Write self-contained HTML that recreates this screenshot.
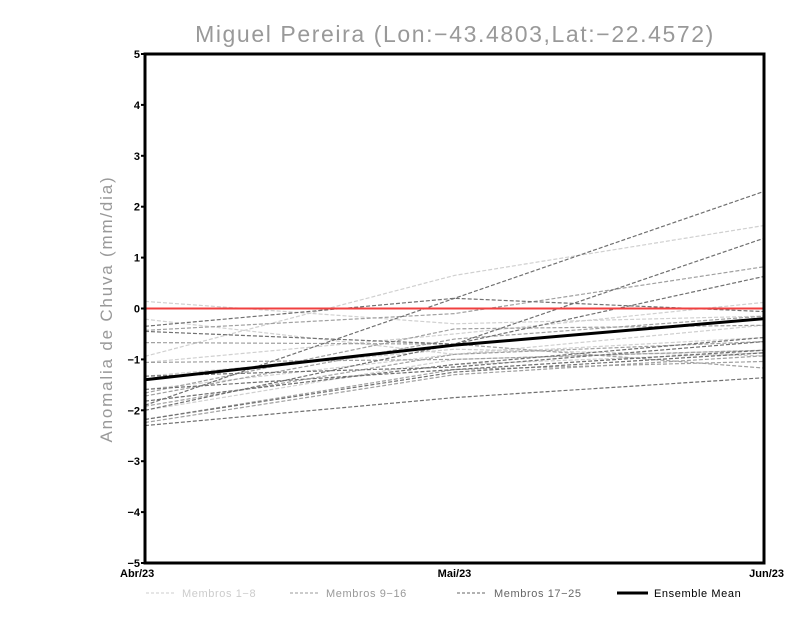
<!DOCTYPE html>
<html><head><meta charset="utf-8"><style>
body{margin:0;background:#fff}
svg{display:block;font-family:"Liberation Sans",sans-serif}
</style></head><body>
<svg id="c" width="800" height="618">
<text x="455" y="42" text-anchor="middle" font-size="23" letter-spacing="1.6" fill="#999">Miguel Pereira (Lon:−43.4803,Lat:−22.4572)</text>
<text transform="translate(112,309) rotate(-90)" text-anchor="middle" font-size="17" letter-spacing="1.8" fill="#999">Anomalia de Chuva (mm/dia)</text>
<g id="lines"></g>
<g id="axes"></g>
<g id="legend">
<line x1="146" y1="593" x2="176" y2="593" stroke="#ccc" stroke-dasharray="3,2"/>
<text x="182" y="597" font-size="11" letter-spacing="0.6" fill="#ccc">Membros 1−8</text>
<line x1="290" y1="593" x2="320" y2="593" stroke="#999" stroke-dasharray="3,2"/>
<text x="326" y="597" font-size="11" letter-spacing="0.6" fill="#999">Membros 9−16</text>
<line x1="457" y1="593" x2="487" y2="593" stroke="#666" stroke-dasharray="3,2"/>
<text x="494" y="597" font-size="11" letter-spacing="0.6" fill="#666">Membros 17−25</text>
<line x1="617" y1="593" x2="648" y2="593" stroke="#000" stroke-width="3"/>
<text x="654" y="597" font-size="11" letter-spacing="0.6" fill="#000">Ensemble Mean</text>
</g>
</svg>
<script>
const categories=["Abr/23","Mai/23","Jun/23"];
const yTicks=[-5,-4,-3,-2,-1,0,1,2,3,4,5];
const members1to8=[[0.14,-0.3,-0.15],[-0.94,0.65,1.63],[-1.06,-0.5,0.12],[-1.33,-0.8,-0.93],[-2.0,-1.0,-0.82],[-1.59,-0.9,-0.57],[-0.21,-0.9,-0.33],[-1.82,-1.1,-0.87]];
const members9to16=[[-0.43,-0.1,0.82],[-1.66,-0.4,-0.33],[-1.72,-0.6,-0.15],[-2.18,-1.2,-1.04],[-0.67,-0.7,-1.17],[-1.92,-0.9,-0.65],[-2.24,-1.3,-0.93],[-1.06,-1.0,-0.82]];
const members17to25=[[-1.9,0.2,2.3],[-0.35,0.2,-0.06],[-2.0,-0.7,1.38],[-0.45,-0.7,0.63],[-1.82,-1.1,-0.57],[-2.3,-1.75,-1.36],[-1.33,-1.15,-0.65],[-2.18,-1.25,-0.87],[-1.59,-1.2,-0.82]];
const ensembleMean=[-1.4,-0.72,-0.2];
const L=145,R=764,T=54,B=563;
const xs=i=>L+(R-L)*i/(categories.length-1);
const ys=v=>T+(B-T)*(5-v)/10;
const NS="http://www.w3.org/2000/svg";
const lines=document.getElementById('lines'),axes=document.getElementById('axes');
function mk(tag,attrs,parent){const e=document.createElementNS(NS,tag);for(const k in attrs)e.setAttribute(k,attrs[k]);parent.appendChild(e);return e;}
function poly(vals,color,w,dash,name){
  const p=mk('polyline',{points:vals.map((v,i)=>xs(i)+','+ys(v)).join(' '),fill:'none',stroke:color,'stroke-width':w},lines);
  if(dash)p.setAttribute('stroke-dasharray',dash);
  
  
}
members1to8.forEach((m,i)=>poly(m,'#d0d0d0',1.2,'4,2','member-line-'+(i+1)));
members9to16.forEach((m,i)=>poly(m,'#a0a0a0',1.2,'4,2','member-line-'+(i+9)));
members17to25.forEach((m,i)=>poly(m,'#707070',1.2,'4,2','member-line-'+(i+17)));
const z=mk('line',{x1:L,x2:R,y1:ys(0),y2:ys(0),stroke:'#f04040','stroke-width':2},lines);


poly(ensembleMean,'#000',3,null,'ensemble-mean-line');
const fr=mk('rect',{x:L,y:T,width:R-L,height:B-T,fill:'none',stroke:'#000','stroke-width':3},axes);


yTicks.forEach(v=>{
  const t=mk('text',{x:L-5,y:ys(v)+4,'text-anchor':'end','font-size':11,'font-weight':'bold'},axes);
  t.textContent=v<0?'−'+(-v):String(v);
  
  
  const tk=mk('line',{x1:L-4,x2:L,y1:ys(v),y2:ys(v),stroke:'#000','stroke-width':2},axes);
  
  
});
categories.forEach((c,i)=>{
  const anchor=i===0?'start':(i===categories.length-1?'end':'middle');
  const x=i===0?L-25:(i===categories.length-1?R+20:xs(i));
  const t=mk('text',{x:x,y:B+14,'text-anchor':anchor,'font-size':11,'font-weight':'bold'},axes);
  t.textContent=c;
  
  
});
</script>
</body></html>
